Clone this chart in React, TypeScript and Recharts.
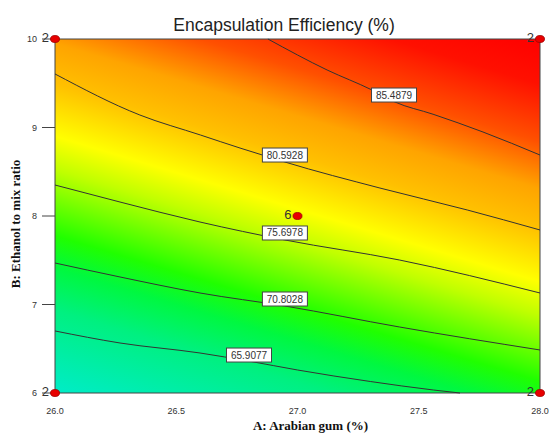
import {
  ComposedChart,
  Line,
  XAxis,
  YAxis,
  CartesianGrid,
  ReferenceArea,
  ReferenceDot,
  Scatter,
} from 'recharts';

const xTicks = [26, 26.5, 27, 27.5, 28];
const yTicks = [6, 7, 8, 9, 10];

// contour lines (A, B)
const c65 = [
  { a: 26, b: 6.701 },
  { a: 26.268, b: 6.565 },
  { a: 26.598, b: 6.452 },
  { a: 26.8, b: 6.36 },
  { a: 27.0, b: 6.26 },
  { a: 27.3, b: 6.13 },
  { a: 27.56, b: 6.034 },
  { a: 27.67, b: 6 },
];
const c70 = [
  { a: 26, b: 7.469 },
  { a: 26.268, b: 7.311 },
  { a: 26.598, b: 7.13 },
  { a: 26.948, b: 6.983 },
  { a: 27.42, b: 6.746 },
  { a: 28, b: 6.486 },
];
const c75 = [
  { a: 26, b: 8.35 },
  { a: 26.268, b: 8.158 },
  { a: 26.598, b: 7.932 },
  { a: 26.948, b: 7.729 },
  { a: 27.42, b: 7.503 },
  { a: 28, b: 7.13 },
];
const c80 = [
  { a: 26, b: 9.605 },
  { a: 26.35, b: 9.141 },
  { a: 26.6, b: 8.915 },
  { a: 26.763, b: 8.768 },
  { a: 26.854, b: 8.69 },
  { a: 26.948, b: 8.61 },
  { a: 27.34, b: 8.316 },
  { a: 27.7, b: 8.068 },
  { a: 28, b: 7.842 },
];
const c85 = [
  { a: 26.878, b: 10 },
  { a: 27.122, b: 9.65 },
  { a: 27.307, b: 9.424 },
  { a: 27.4, b: 9.29 },
  { a: 27.559, b: 9.15 },
  { a: 27.765, b: 8.949 },
  { a: 28, b: 8.689 },
];
const contours = [c65, c70, c75, c80, c85];

const contourLabels = [
  { a: 27.398, b: 9.367, text: '85.4879' },
  { a: 26.948, b: 8.689, text: '80.5928' },
  { a: 26.948, b: 7.808, text: '75.6978' },
  { a: 26.948, b: 7.062, text: '70.8028' },
  { a: 26.8, b: 6.429, text: '65.9077' },
];

const designPts = [
  { a: 26, b: 6, n: 2 },
  { a: 26, b: 10, n: 2 },
  { a: 28, b: 6, n: 2 },
  { a: 28, b: 10, n: 2 },
  { a: 27, b: 8, n: 6 },
];

const font = 'Liberation Sans, Arial, sans-serif';
const tickStyle = { fill: '#333', fontSize: 9, fontFamily: font };
const axisTitle = { fill: '#111', fontSize: 13, fontWeight: 'bold', fontFamily: 'Liberation Serif, Times New Roman, serif' };

const PointShape = (props: any) => {
  const { cx, cy, payload } = props;
  return (
    <g>
      <ellipse cx={cx} cy={cy} rx={4.5} ry={3.5} fill="#e80000" stroke="#a00000" strokeWidth={0.8} />
      <text x={cx - 6} y={cy + 3} textAnchor="end" fontSize={13} fill="#333" fontFamily={font}>
        {payload.n}
      </text>
    </g>
  );
};

const boxLabel = (text: string) => (props: any) => {
  const { cx, cy } = props;
  return (
    <g>
      <rect x={cx - 22.5} y={cy - 7} width={45} height={14} fill="#fff" stroke="#444" strokeWidth={1} />
      <text x={cx} y={cy + 3.5} textAnchor="middle" fontSize={10} fill="#333" fontFamily={font}>
        {text}
      </text>
    </g>
  );
};

const XTick = (props: any) => {
  const { x, y, payload } = props;
  return (
    <text x={x} y={y} dy="0.71em" textAnchor="middle" {...tickStyle}>
      {Number(payload.value).toFixed(1)}
    </text>
  );
};

export default function App() {
  return (
    <div style={{ position: 'relative', width: 549, height: 435, overflow: 'hidden' }}>
      <style>{'body { margin: 0; }'}</style>
      <div
        style={{
          position: 'absolute',
          left: 0,
          width: 568,
          top: 15,
          textAlign: 'center',
          fontFamily: font,
          fontSize: 17.5,
          color: '#222',
        }}
      >
        Encapsulation Efficiency (%)
      </div>
      <ComposedChart width={549} height={435} margin={{ top: 39, right: 9, left: 8, bottom: 0 }}>
        <defs>
          <linearGradient id="ee" x1="0" y1="1" x2="0.496" y2="-0.207">
            <stop offset="0" stopColor="#00ecc8" />
            <stop offset="0.166" stopColor="#00f080" />
            <stop offset="0.25" stopColor="#00f840" />
            <stop offset="0.315" stopColor="#20ff00" />
            <stop offset="0.447" stopColor="#c0ff00" />
            <stop offset="0.514" stopColor="#ffff00" />
            <stop offset="0.62" stopColor="#ffc000" />
            <stop offset="0.7" stopColor="#ffa400" />
            <stop offset="0.795" stopColor="#ff5000" />
            <stop offset="0.91" stopColor="#ff1000" />
            <stop offset="1" stopColor="#ff0000" />
          </linearGradient>
        </defs>
        <CartesianGrid horizontal={false} vertical={false} fill="url(#ee)" />
        <XAxis
          type="number"
          dataKey="a"
          domain={[26, 28]}
          ticks={xTicks}
          axisLine={false}
          tickLine={false}
          tickMargin={9}
          tick={<XTick />}
          height={42}
          interval={0}
          label={{ value: 'A: Arabian gum (%)', position: 'insideBottom', offset: 5, dx: 13, style: axisTitle }}
        />
        <YAxis
          type="number"
          dataKey="b"
          domain={[6, 10]}
          ticks={yTicks}
          axisLine={false}
          tickLine={{ stroke: '#444' }}
          tickSize={13}
          tickMargin={5}
          tick={tickStyle}
          width={47}
          interval={0}
          label={{
            value: 'B: Ethanol to mix ratio',
            angle: -90,
            position: 'insideLeft',
            offset: 7,
            dy: 8,
            style: { ...axisTitle, textAnchor: 'middle' },
          }}
        />
        {contours.map((c, i) => (
          <Line
            key={i}
            data={c}
            dataKey="b"
            type="monotone"
            stroke="#333"
            strokeWidth={1}
            dot={false}
            activeDot={false}
            isAnimationActive={false}
          />
        ))}
        <ReferenceArea x1={26} x2={28} y1={6} y2={10} fill="none" stroke="#444" strokeWidth={1} fillOpacity={0} />
        {contourLabels.map((l) => (
          <ReferenceDot key={l.text} x={l.a} y={l.b} shape={boxLabel(l.text)} />
        ))}
        <Scatter data={designPts} dataKey="b" shape={PointShape} isAnimationActive={false} />
      </ComposedChart>
    </div>
  );
}
